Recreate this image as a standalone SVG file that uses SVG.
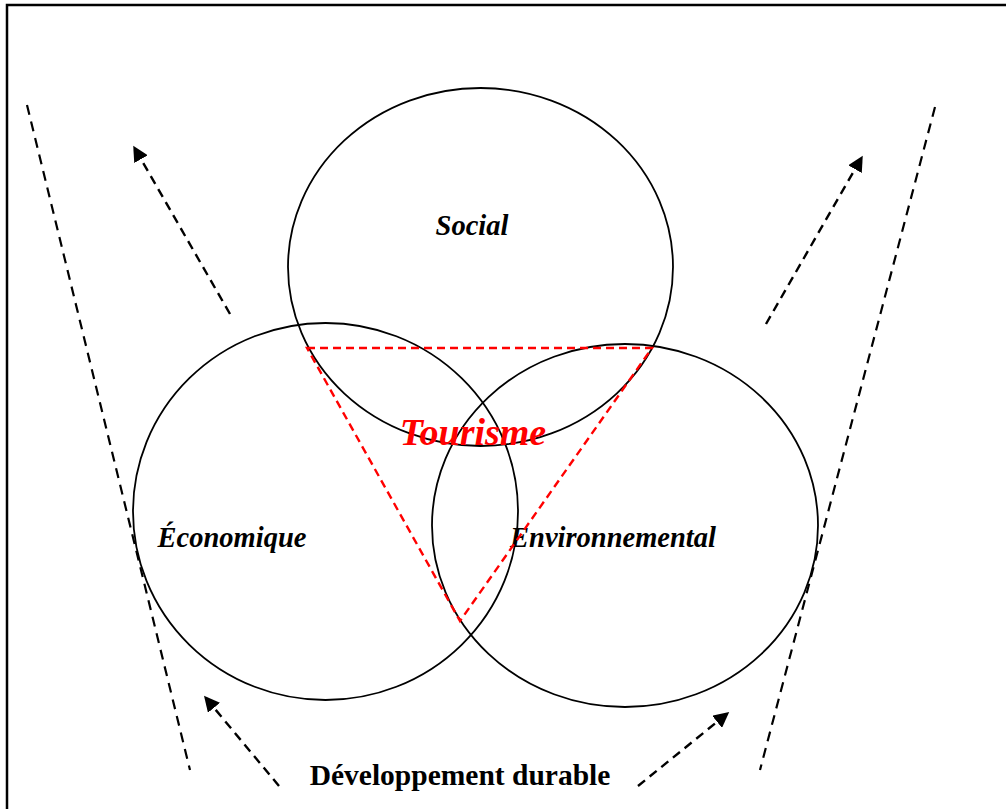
<svg xmlns="http://www.w3.org/2000/svg" width="1006" height="809" viewBox="0 0 1006 809">
<style>
.circ{fill:none;stroke:#000;stroke-width:1.8}
.lbl{font-family:"Liberation Serif","Times New Roman",serif;font-weight:bold;font-style:italic;font-size:28.5px;fill:#000;text-anchor:middle}
.dl{fill:none;stroke:#000;stroke-width:2.2;stroke-dasharray:10 7}
.arr{fill:none;stroke:#000;stroke-width:2.4;stroke-dasharray:9 6;marker-end:url(#ah)}
.red{fill:none;stroke:#ff0000;stroke-width:2.4;stroke-dasharray:8 5}
</style>
<defs>
<marker id="ah" viewBox="0 0 10 10" refX="9" refY="5" markerWidth="6.5" markerHeight="6.5" orient="auto" markerUnits="strokeWidth">
<path d="M0,0 L10,5 L0,10 z" fill="#000"/>
</marker>
</defs>
<rect width="1006" height="809" fill="#fff"/>
<path d="M7,809 V5 H1006" fill="none" stroke="#000" stroke-width="2.5"/>
<g id="social">
<ellipse class="circ" cx="480.5" cy="267" rx="192.5" ry="179"/>
<text class="lbl" x="472" y="235">Social</text>
</g>
<g id="economique">
<ellipse class="circ" cx="325.5" cy="511.5" rx="192.5" ry="188.5" stroke-width="2.3"/>
<text class="lbl" x="232" y="547">Économique</text>
</g>
<g id="environnemental">
<ellipse class="circ" cx="625" cy="525.5" rx="193" ry="181.5"/>
<text class="lbl" x="613" y="547">Environnemental</text>
</g>
<g id="tourisme">
<path class="red" d="M307,348 H652 L460,621 Z"/>
<text class="lbl" x="473" y="445" style="font-size:38px;fill:#ff0000">Tourisme</text>
</g>
<g id="connectors">
<line class="dl" x1="27" y1="105" x2="190" y2="770"/>
<line class="dl" x1="935" y1="107" x2="760" y2="770"/>
<line class="arr" x1="230" y1="314" x2="134" y2="147"/>
<line class="arr" x1="766" y1="324" x2="862" y2="157"/>
<line class="arr" x1="279" y1="786" x2="205" y2="697"/>
<line class="arr" x1="638" y1="786" x2="728" y2="713"/>
</g>
<g id="developpement">
<text x="460" y="785" style="font-family:'Liberation Serif','Times New Roman',serif;font-weight:bold;font-size:29.5px;text-anchor:middle">Développement durable</text>
</g>
</svg>
